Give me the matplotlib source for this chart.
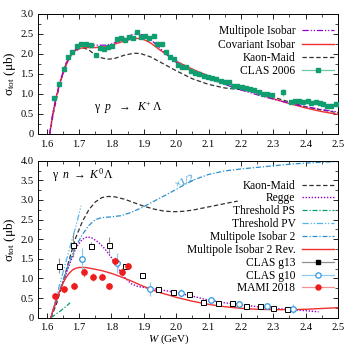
## K Lambda photoproduction total cross sections (two panels)
import numpy as np
import matplotlib
matplotlib.use('Agg')
import matplotlib.pyplot as plt
from matplotlib.lines import Line2D
from matplotlib.ticker import MultipleLocator

plt.rcParams['font.family'] = ['Liberation Serif', 'DejaVu Serif']
plt.rcParams['mathtext.fontset'] = 'custom'
plt.rcParams['mathtext.rm'] = 'Liberation Serif'
plt.rcParams['mathtext.it'] = 'Liberation Serif:italic'
plt.rcParams['font.size'] = 8

################################################################
## top panel : gamma p -> K+ Lambda
W_mi = [1.609, 1.62, 1.64, 1.66, 1.68, 1.70, 1.72, 1.75, 1.78, 1.80, 1.83, 1.86, 1.88,
        1.90, 1.92, 1.95, 1.98, 2.00, 2.05, 2.10, 2.15, 2.20, 2.25, 2.30, 2.35, 2.40, 2.45, 2.50]
s_mi = [0.0, 0.6, 1.3, 1.78, 2.05, 2.18, 2.22, 2.22, 2.22, 2.25, 2.35, 2.47, 2.51,
        2.47, 2.37, 2.14, 1.92, 1.79, 1.57, 1.39, 1.24, 1.10, 0.98, 0.87, 0.77, 0.68, 0.61, 0.55]

W_ci = [1.609, 1.62, 1.63, 1.64, 1.65, 1.66, 1.67, 1.68, 1.69, 1.70, 1.72, 1.75, 1.78, 1.80,
        1.83, 1.86, 1.88, 1.90, 1.92, 1.95, 1.98, 2.00, 2.05, 2.10, 2.15, 2.20, 2.25, 2.30,
        2.35, 2.40, 2.45, 2.50]
s_ci = [0.0, 0.55, 0.95, 1.25, 1.5, 1.72, 1.9, 2.02, 2.1, 2.14, 2.16, 2.16, 2.18, 2.22,
        2.30, 2.37, 2.39, 2.36, 2.28, 2.10, 1.93, 1.82, 1.62, 1.45, 1.30, 1.16, 1.02, 0.88,
        0.76, 0.65, 0.56, 0.49]

W_km = [1.609, 1.62, 1.64, 1.66, 1.68, 1.70, 1.715, 1.73, 1.75, 1.77, 1.79, 1.81, 1.84,
        1.87, 1.89, 1.92, 1.95, 2.00, 2.05, 2.10, 2.15, 2.20, 2.25, 2.30, 2.35, 2.40, 2.45, 2.50]
s_km = [0.0, 0.5, 1.25, 1.75, 2.02, 2.13, 2.15, 2.10, 1.98, 1.90, 1.87, 1.89, 1.97,
        2.02, 2.01, 1.93, 1.80, 1.58, 1.38, 1.24, 1.15, 1.11, 1.03, 0.92, 0.80, 0.68, 0.60, 0.53]

W_clas06 = [1.622, 1.637, 1.653, 1.666, 1.679, 1.693, 1.707, 1.722, 1.736, 1.751, 1.764, 1.776,
            1.790, 1.802, 1.816, 1.828, 1.841, 1.854, 1.866, 1.879, 1.892, 1.904, 1.917, 1.930,
            1.942, 1.955, 1.967, 1.980, 1.992, 2.004, 2.017, 2.029, 2.047, 2.059, 2.071, 2.085,
            2.097, 2.111, 2.124, 2.137, 2.150, 2.163, 2.176, 2.189, 2.202, 2.215, 2.228, 2.241,
            2.255, 2.267, 2.280, 2.295, 2.331, 2.354, 2.367, 2.379, 2.393, 2.406, 2.418, 2.431,
            2.443, 2.455, 2.467, 2.479, 2.493]
s_clas06 = [0.89, 1.26, 1.62, 1.92, 2.06, 2.20, 2.24, 2.25, 2.22, 1.97, 2.16, 2.12,
            2.17, 2.21, 2.37, 2.41, 2.34, 2.42, 2.41, 2.54, 2.43, 2.46, 2.41, 2.45,
            2.25, 2.25, 2.04, 1.92, 1.87, 1.73, 1.68, 1.67, 1.575, 1.52, 1.49, 1.46,
            1.425, 1.39, 1.375, 1.33, 1.31, 1.30, 1.21, 1.19, 1.17, 1.14, 1.125, 1.10,
            1.04, 1.00, 1.01, 0.975, 1.04, 0.80, 0.825, 0.817, 0.80, 0.817, 0.783, 0.80,
            0.783, 0.742, 0.70, 0.708, 0.74]
e_clas06 = [0.04, 0.04, 0.04, 0.05, 0.05, 0.06, 0.07, 0.06, 0.05, 0.04, 0.04, 0.04,
            0.04, 0.04, 0.04, 0.04, 0.04, 0.04, 0.04, 0.04, 0.04, 0.04, 0.04, 0.04,
            0.04, 0.04, 0.03, 0.03, 0.03, 0.03, 0.03, 0.03, 0.03, 0.03, 0.03, 0.03,
            0.03, 0.03, 0.03, 0.03, 0.03, 0.03, 0.03, 0.03, 0.03, 0.03, 0.03, 0.03,
            0.03, 0.03, 0.03, 0.03, 0.09, 0.03, 0.03, 0.03, 0.03, 0.03, 0.03, 0.03,
            0.03, 0.03, 0.03, 0.03, 0.03]

################################################################
## bottom panel : gamma n -> K0 Lambda
W_km2 = [1.613, 1.63, 1.65, 1.67, 1.69, 1.71, 1.73, 1.75, 1.77, 1.79, 1.81, 1.84, 1.87,
         1.90, 1.93, 1.96, 1.99, 2.02, 2.05, 2.08, 2.11, 2.14, 2.17, 2.19]
s_km2 = [0.0, 0.35, 0.9, 1.5, 2.05, 2.45, 2.75, 2.95, 3.06, 3.09, 3.08, 3.02, 2.93,
         2.84, 2.77, 2.72, 2.70, 2.71, 2.74, 2.79, 2.84, 2.89, 2.94, 2.97]

W_regge = [1.613, 1.63, 1.65, 1.67, 1.69, 1.71, 1.725, 1.74, 1.76, 1.78, 1.80, 1.82, 1.84,
           1.86, 1.88, 1.90, 1.93, 1.96, 2.00, 2.05, 2.10, 2.15, 2.20, 2.25, 2.30, 2.35,
           2.40, 2.44]
s_regge = [0.0, 0.45, 0.9, 1.35, 1.78, 2.0, 2.06, 2.03, 1.92, 1.75, 1.53, 1.27, 1.03,
           0.87, 0.80, 0.77, 0.74, 0.70, 0.64, 0.55, 0.45, 0.38, 0.33, 0.28, 0.24, 0.21,
           0.18, 0.15]

W_ps = [1.613, 1.63, 1.645, 1.66, 1.672]
s_ps = [0.0, 0.1, 0.19, 0.29, 0.38]

W_pv = [1.613, 1.63, 1.65, 1.67, 1.69, 1.706]
s_pv = [0.0, 0.55, 1.15, 1.75, 2.33, 2.85]

# Multipole Isobar 2, drawn x 1/2
W_mi2 = [1.613, 1.63, 1.65, 1.67, 1.69, 1.71, 1.73, 1.75, 1.77, 1.80, 1.83, 1.86, 1.89,
         1.92, 1.95, 1.98, 2.00, 2.03, 2.06, 2.10, 2.15, 2.20, 2.25, 2.30, 2.35, 2.40,
         2.45, 2.50]
s_mi2 = [0.0, 0.45, 0.95, 1.42, 1.82, 2.12, 2.35, 2.50, 2.55, 2.57, 2.60, 2.68, 2.79,
         2.92, 3.05, 3.18, 3.27, 3.41, 3.53, 3.65, 3.74, 3.79, 3.83, 3.87, 3.91, 3.94,
         3.96, 3.98]

W_rev = [1.613, 1.62, 1.63, 1.64, 1.65, 1.66, 1.67, 1.68, 1.69, 1.70, 1.72, 1.74, 1.77,
         1.80, 1.83, 1.86, 1.89, 1.92, 1.95, 1.98, 2.00, 2.05, 2.10, 2.15, 2.20, 2.25,
         2.30, 2.35, 2.40, 2.45, 2.50]
s_rev = [0.0, 0.22, 0.45, 0.68, 0.88, 1.03, 1.14, 1.22, 1.26, 1.28, 1.28, 1.25, 1.20,
         1.13, 1.04, 0.94, 0.83, 0.73, 0.64, 0.57, 0.52, 0.42, 0.34, 0.28, 0.24, 0.215,
         0.205, 0.205, 0.215, 0.235, 0.255]

W_g13 = [1.638, 1.682, 1.737, 1.791, 1.842, 1.895, 1.945, 1.990, 2.039, 2.083, 2.129,
         2.173, 2.217, 2.258, 2.300, 2.341]
s_g13 = [1.32, 1.85, 1.83, 1.86, 1.33, 1.09, 0.72, 0.66, 0.60, 0.41, 0.375,
         0.38, 0.31, 0.29, 0.26, 0.23]
e_g13 = [0.19, 0.30, 0.09, 0.20, 0.05, 0.06, 0.05, 0.05, 0.05, 0.08, 0.04,
         0.04, 0.04, 0.04, 0.03, 0.03]

W_g10 = [1.710, 1.818, 1.920, 2.015, 2.107, 2.195, 2.281, 2.362]
s_g10 = [1.49, 1.40, 0.74, 0.64, 0.44, 0.34, 0.30, 0.23]
e_g10 = [0.28, 0.25, 0.18, 0.10, 0.08, 0.05, 0.06, 0.12]

W_mami = [1.624, 1.654, 1.684, 1.715, 1.744, 1.770, 1.791, 1.811, 1.831, 1.850]
s_mami = [0.55, 0.72, 0.82, 1.16, 1.03, 1.05, 0.80, 1.44, 1.16, 1.33]
e_mami = [0.08, 0.10, 0.08, 0.12, 0.10, 0.10, 0.08, 0.10, 0.10, 0.07]

xticks = [1.6, 1.7, 1.8, 1.9, 2.0, 2.1, 2.2, 2.3, 2.4, 2.5]

## colours / styles
c_purple = '#9400d3'
c_red = '#f03030'
c_black = '#303030'
c_green = '#109e70'
c_lgreen = '#70c8a4'
c_ps = '#009e73'
c_pv = '#56b4e9'
c_mi2 = '#2a8fcc'
c_blue = '#2f9ae0'
c_lblue = '#8fcbf0'
c_gray = '#909090'
c_lred = '#f59090'

ls_ddot = (0, (5, 1.5, 1, 1.5, 1, 1.5))
ls_dash = (0, (3.5, 2))
ls_dot = (0, (1, 1.2))
ls_dd = (0, (4, 1.5, 1, 1.5))

def style_axes(ax, ymax, ylabels):
  ax.set_xlim(1.572, 2.5)
  ax.set_ylim(0, ymax)
  ax.set_xticks(xticks)
  ax.set_xticklabels(['%.1f' % t for t in xticks])
  ax.xaxis.set_minor_locator(MultipleLocator(0.05))
  yt = np.arange(0, ymax + 0.01, 0.5)
  ax.set_yticks(yt)
  ax.set_yticklabels(ylabels)
  ax.yaxis.set_minor_locator(MultipleLocator(0.25))
  ax.tick_params(which='both', direction='in', top=True, right=True, labelsize=7.6)
  ax.tick_params(which='major', length=3.5, width=0.6)
  ax.tick_params(which='minor', length=2, width=0.5)
  ax.tick_params(axis='x', pad=4)
  ax.tick_params(axis='y', pad=3)
  for s in ax.spines.values():
    s.set_linewidth(0.7)
  ax.set_ylabel(r'$\mathrm{σ}_{\mathrm{tot}}$ (μb)', fontsize=9.5, labelpad=2)

fig = plt.figure(figsize=(3.44, 3.54), dpi=100)
ax1 = fig.add_axes([0.1096, 0.6215, 0.873, 0.339])
ax2 = fig.add_axes([0.1096, 0.1025, 0.873, 0.4435])

########################## top
ax1.plot(W_km, s_km, ls=ls_dash, color=c_black, lw=0.9)
ax1.plot(W_ci, s_ci, '-', color=c_red, lw=1.0)
ax1.plot(W_mi, s_mi, ls=ls_ddot, color=c_purple, lw=0.9)
ax1.errorbar(W_clas06, s_clas06, yerr=e_clas06, fmt='s', ms=3.2, color=c_green,
             ecolor=c_lgreen, elinewidth=0.8, capsize=0, mec=c_green, zorder=5)

h1 = [Line2D([], [], ls=ls_ddot, color=c_purple, lw=0.9),
      Line2D([], [], ls='-', color=c_red, lw=1.0),
      Line2D([], [], ls=ls_dash, color=c_black, lw=0.9),
      Line2D([], [], ls='-', color=c_lgreen, lw=0.9, marker='s', ms=3.2,
             mfc=c_green, mec=c_green)]
l1 = ['Multipole Isobar', 'Covariant Isobar', 'Kaon-Maid', 'CLAS 2006']
ax1.legend(h1, l1, loc='upper right', bbox_to_anchor=(0.985, 0.905), frameon=False,
           markerfirst=False, fontsize=8.3, handlelength=2.7, handletextpad=0.6,
           labelspacing=0.115, borderpad=0, borderaxespad=0)
ax1.text(1.745, 0.67, r'$\mathrm{γ}\ \ p\ \ \rightarrow\ \ K^{+}\,\mathrm{Λ}$',
         fontsize=8.5, va='center')
style_axes(ax1, 3.0, ['0', '0.5', '1.0', '1.5', '2.0', '2.5', '3.0'])

########################## bottom
ax2.plot(W_km2, s_km2, ls=ls_dash, color=c_black, lw=0.9)
ax2.plot(W_regge, s_regge, ls=ls_dot, color=c_purple, lw=1.0)
ax2.plot(W_ps, s_ps, ls=ls_dd, color=c_ps, lw=0.9)
ax2.plot(W_pv, s_pv, ls=ls_ddot, color=c_pv, lw=0.9)
ax2.plot(W_mi2, s_mi2, ls=ls_dd, color=c_mi2, lw=0.9)
ax2.plot(W_rev, s_rev, '-', color=c_red, lw=1.0)
ax2.errorbar(W_g13, s_g13, yerr=e_g13, fmt='s', ms=3.6, mfc='white', mec='black',
             mew=0.7, ecolor=c_gray, elinewidth=0.8, capsize=0, zorder=5)
ax2.errorbar(W_g10, s_g10, yerr=e_g10, fmt='o', ms=4.0, mfc='white', mec=c_blue,
             mew=0.9, ecolor=c_lblue, elinewidth=0.9, capsize=0, zorder=5)
ax2.errorbar(W_mami, s_mami, yerr=e_mami, fmt='o', ms=3.8, color='#ee1c1c',
             ecolor=c_lred, elinewidth=0.9, capsize=0, zorder=6)

h2 = [Line2D([], [], ls=ls_dash, color=c_black, lw=0.9),
      Line2D([], [], ls=ls_dot, color=c_purple, lw=1.0),
      Line2D([], [], ls=ls_dd, color=c_ps, lw=0.9),
      Line2D([], [], ls=ls_ddot, color=c_pv, lw=0.9),
      Line2D([], [], ls=ls_dd, color=c_mi2, lw=0.9),
      Line2D([], [], ls='-', color=c_red, lw=1.0),
      Line2D([], [], ls='-', color=c_gray, lw=0.9, marker='s', ms=3.2,
             mfc='black', mec='black'),
      Line2D([], [], ls='-', color=c_lblue, lw=0.9, marker='o', ms=3.8,
             mfc='white', mec=c_blue, mew=0.9),
      Line2D([], [], ls='-', color=c_lred, lw=0.9, marker='o', ms=3.6,
             mfc='#ee1c1c', mec='#ee1c1c')]
l2 = ['Kaon-Maid', 'Regge', 'Threshold PS', 'Threshold PV', 'Multipole Isobar 2',
      'Multipole Isobar 2 Rev.', 'CLAS g13', 'CLAS g10', 'MAMI 2018']
ax2.legend(h2, l2, loc='upper right', bbox_to_anchor=(0.985, 0.88), frameon=False,
           markerfirst=False, fontsize=8.3, handlelength=2.7, handletextpad=0.6,
           labelspacing=0.075, borderpad=0, borderaxespad=0)
ax2.text(1.615, 3.62, r'$\mathrm{γ}\ \ n\ \rightarrow\ K^{0}\,\mathrm{Λ}$',
         fontsize=8.5, va='center')
ax2.text(2.025, 3.48, '×1/2', color=c_mi2, fontsize=8, rotation=24,
         ha='center', va='center')
style_axes(ax2, 4.0, ['0', '0.5', '1.0', '1.5', '2.0', '2.5', '3.0', '3.5', '4.0'])
ax2.set_xlabel(r'$W$ (GeV)', fontsize=8, labelpad=0.5, x=0.437)

fig.savefig('out.png', dpi=100)
